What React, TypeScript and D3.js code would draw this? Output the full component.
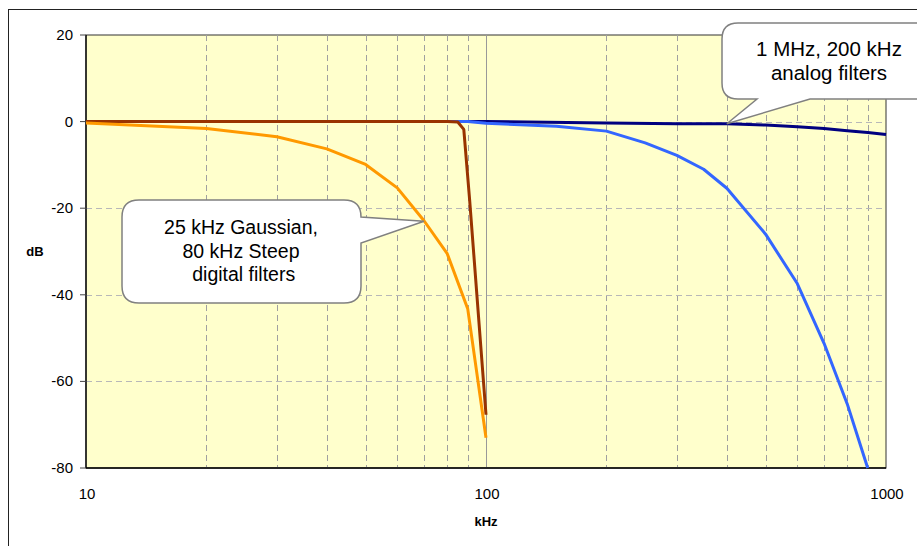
import React, { useEffect, useRef } from "react";
import { select, scaleLog, scaleLinear, line } from "d3";

// frequency (kHz) and attenuation (dB)
const gaussFreq = [10, 20, 30, 40, 50, 60, 70, 80, 90, 100];
const gaussDb = [-0.3, -1.6, -3.5, -6.3, -9.9, -15.3, -22.9, -30.5, -43.2, -73];

const steepFreq = [10, 20, 30, 40, 50, 60, 70, 80, 85, 88, 91, 100];
const steepDb = [0, 0, 0, 0, 0, 0, 0, 0, -0.1, -1.8, -18, -67.7];

const mhzFreq = [10, 20, 30, 40, 50, 60, 70, 80, 90, 100, 200, 300, 400, 500, 600, 700, 800, 900, 1000];
const mhzDb = [0, 0, 0, 0, 0, 0, 0, 0, 0, 0, -0.3, -0.5, -0.5, -0.8, -1.2, -1.6, -2.1, -2.5, -3.0];

const k200Freq = [10, 20, 30, 40, 50, 60, 70, 80, 90, 100, 150, 200, 250, 300, 350, 400, 500, 600, 700, 800, 900];
const k200Db = [0, 0, 0, 0, 0, 0, 0, 0, 0, -0.4, -1.1, -2.2, -4.9, -7.8, -11.0, -15.4, -26.0, -37.4, -51.2, -65.2, -80];

const yTicks = [20, 0, -20, -40, -60, -80];
const xTicks = [10, 100, 1000];
const xMinor = [20, 30, 40, 50, 60, 70, 80, 90, 200, 300, 400, 500, 600, 700, 800, 900];

const series = [
  { freq: mhzFreq, db: mhzDb, color: "#000080" },
  { freq: k200Freq, db: k200Db, color: "#3366FF" },
  { freq: steepFreq, db: steepDb, color: "#993300" },
  { freq: gaussFreq, db: gaussDb, color: "#FF9900" },
];

const FONT = "Arial, 'Liberation Sans', sans-serif";

function App() {
  const svgRef = useRef(null);

  useEffect(() => {
    const svg = select(svgRef.current);
    svg.selectAll("*").remove();

    const left = 86, right = 886, top = 35, bottom = 468;
    const x = scaleLog().domain([10, 1000]).range([left, right]);
    const y = scaleLinear().domain([-80, 20]).range([bottom, top]);

    // outer chart border
    svg.append("rect")
      .attr("x", 8.5).attr("y", 9.5).attr("width", 940).attr("height", 560)
      .attr("fill", "white").attr("stroke", "#222").attr("stroke-width", 1);

    // plot area
    svg.append("rect")
      .attr("x", left).attr("y", top).attr("width", right - left).attr("height", bottom - top)
      .attr("fill", "#FFFFCC").attr("stroke", "#333").attr("stroke-width", 1);

    // grid
    svg.selectAll(".vgrid").data(xMinor).join("line")
      .attr("class", "vgrid")
      .attr("x1", d => Math.round(x(d)) + 0.5).attr("x2", d => Math.round(x(d)) + 0.5)
      .attr("y1", top).attr("y2", bottom)
      .attr("stroke", "#A0A0A0").attr("stroke-dasharray", "6,4");

    svg.selectAll(".hgrid").data(yTicks.filter(t => t < 20 && t > -80)).join("line")
      .attr("class", "hgrid")
      .attr("x1", left).attr("x2", right)
      .attr("y1", d => Math.round(y(d)) + 0.5).attr("y2", d => Math.round(y(d)) + 0.5)
      .attr("stroke", "#B8B8B8").attr("stroke-dasharray", "6,4");

    svg.append("line")
      .attr("x1", Math.round(x(100)) + 0.5).attr("x2", Math.round(x(100)) + 0.5)
      .attr("y1", top).attr("y2", bottom)
      .attr("stroke", "#999").attr("stroke-width", 1);

    // axes
    svg.append("line").attr("x1", left).attr("x2", left).attr("y1", top).attr("y2", bottom)
      .attr("stroke", "black").attr("stroke-width", 1.3);
    svg.append("line").attr("x1", left).attr("x2", right).attr("y1", bottom).attr("y2", bottom)
      .attr("stroke", "black").attr("stroke-width", 1.3);

    svg.selectAll(".ytick").data(yTicks).join("line")
      .attr("class", "ytick")
      .attr("x1", left - 6).attr("x2", left)
      .attr("y1", d => y(d)).attr("y2", d => y(d))
      .attr("stroke", "#444");

    svg.selectAll(".ylab").data(yTicks).join("text")
      .attr("class", "ylab")
      .attr("x", left - 13).attr("y", d => y(d) + 5)
      .attr("text-anchor", "end")
      .attr("font-family", FONT).attr("font-size", 15)
      .text(d => d);

    svg.selectAll(".xlab").data(xTicks).join("text")
      .attr("class", "xlab")
      .attr("x", d => x(d) + 1).attr("y", 499)
      .attr("text-anchor", "middle")
      .attr("font-family", FONT).attr("font-size", 15)
      .text(d => d);

    svg.append("text").attr("x", x(100)).attr("y", 526)
      .attr("text-anchor", "middle").attr("font-family", FONT)
      .attr("font-size", 13).attr("font-weight", "bold").text("kHz");

    svg.append("text").attr("x", 35).attr("y", 256)
      .attr("text-anchor", "middle").attr("font-family", FONT)
      .attr("font-size", 13).attr("font-weight", "bold").text("dB");

    // curves
    const lineGen = line()
      .x(d => x(d[0]))
      .y(d => y(d[1]));

    svg.selectAll(".curve").data(series).join("path")
      .attr("class", "curve")
      .attr("fill", "none")
      .attr("stroke", d => d.color)
      .attr("stroke-width", 3)
      .attr("stroke-linejoin", "round")
      .attr("d", d => lineGen(d.freq.map((f, i) => [f, d.db[i]])));

    // callouts
    const callout = (x0, y0, x1, y1, r, side, b0, b1, tip) => {
      let p = `M${x0 + r},${y0} H${x1 - r} Q${x1},${y0} ${x1},${y0 + r}`;
      if (side === "right") {
        p += ` V${b0} L${tip[0]},${tip[1]} L${x1},${b1}`;
      }
      p += ` V${y1 - r} Q${x1},${y1} ${x1 - r},${y1}`;
      if (side === "bottom") {
        p += ` H${b1} L${tip[0]},${tip[1]} L${b0},${y1}`;
      }
      p += ` H${x0 + r} Q${x0},${y1} ${x0},${y1 - r} V${y0 + r} Q${x0},${y0} ${x0 + r},${y0} Z`;
      svg.append("path").attr("d", p)
        .attr("fill", "white").attr("stroke", "#808080").attr("stroke-width", 1.5);
    };

    callout(122, 200, 361, 303, 17, "right", 217, 243, [x(70), y(-23)]);
    callout(722, 23, 936, 99, 16, "bottom", 757, 810, [x(400), y(-0.5)]);

    const label = (cx, y0, lines, size) => {
      svg.append("text")
        .attr("font-family", FONT).attr("font-size", size).attr("text-anchor", "middle")
        .selectAll("tspan").data(lines).join("tspan")
        .attr("x", cx).attr("y", (d, i) => y0 + i * 23.5)
        .text(d => d);
    };

    label(241, 234, ["25 kHz Gaussian,", "80 kHz Steep", " digital filters"], 19.5);
    label(829, 56, ["1 MHz, 200 kHz", "analog filters"], 20.5);
  }, []);

  return (
    <React.Fragment>
      <svg
        ref={svgRef}
        width={917}
        height={546}
        style={{ position: "absolute", left: 0, top: 0, display: "block" }}
      />
    </React.Fragment>
  );
}

export default App;
